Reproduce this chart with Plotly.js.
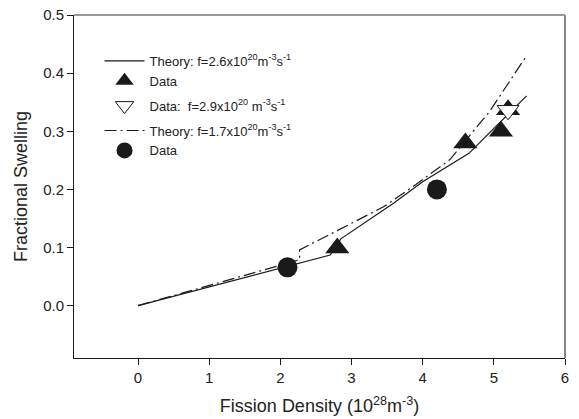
<!DOCTYPE html>
<html>
<head>
<meta charset="utf-8">
<script src="https://cdn.plot.ly/plotly-3.0.1.min.js"></script>
<style>html,body{margin:0;padding:0;background:#fff;}#chart{width:579px;height:419px;}</style>
</head>
<body>
<div id="chart"></div>
<script>
// Theory curve, f = 2.6e20
var theory1X = [0, 2.7, 2.85, 3.3, 3.6, 4.0, 4.65, 5.46];
var theory1Y = [0, 0.087, 0.115, 0.152, 0.177, 0.213, 0.262, 0.361];
// Data (filled triangles)
var data1X = [2.8, 4.6, 5.1, 5.2];
var data1Y = [0.099, 0.28, 0.30, 0.337];
// Data f = 2.9e20 (open inverted triangle)
var data2X = [5.2];
var data2Y = [0.336];
// Theory curve, f = 1.7e20
var theory2X = [0, 2.27, 2.27, 3.45, 3.9, 4.38, 4.94, 5.46];
var theory2Y = [0, 0.079, 0.096, 0.170, 0.208, 0.251, 0.334, 0.430];
// Data (filled circles)
var data3X = [2.1, 4.2];
var data3Y = [0.066, 0.2];

var xTicks = [0, 1, 2, 3, 4, 5, 6];
var yTicks = [0.0, 0.1, 0.2, 0.3, 0.4, 0.5];
var yTickText = ['0.0', '0.1', '0.2', '0.3', '0.4', '0.5'];

var ink = '#1a1a1a';
var traces = [
  {x: theory1X, y: theory1Y, mode: 'lines', name: 'Theory: f=2.6x10<sup>20</sup>m<sup>-3</sup>s<sup>-1</sup>',
   line: {color: ink, width: 1.2}, legendgroup: 'g1'},
  {x: data1X, y: data1Y, mode: 'markers', name: 'Data',
   marker: {symbol: 'triangle-up', size: 21, color: ink}, legendgroup: 'g1'},
  {x: data2X, y: data2Y, mode: 'markers', name: 'Data:  f=2.9x10<sup>20</sup> m<sup>-3</sup>s<sup>-1</sup>',
   marker: {symbol: 'triangle-down', size: 19, color: '#fff', line: {color: ink, width: 1}}, legendgroup: 'g2'},
  {x: theory2X, y: theory2Y, mode: 'lines', name: 'Theory: f=1.7x10<sup>20</sup>m<sup>-3</sup>s<sup>-1</sup>',
   line: {color: ink, width: 1.2, dash: '12px,4px,2px,4px'}, legendgroup: 'g3'},
  {x: data3X, y: data3Y, mode: 'markers', name: 'Data',
   marker: {symbol: 'circle', size: 20, color: ink}, legendgroup: 'g3'}
];

var layout = {
  width: 579, height: 419,
  margin: {l: 74, r: 14, t: 15, b: 61},
  paper_bgcolor: '#fff', plot_bgcolor: '#fff',
  font: {family: 'Liberation Sans, Arial, sans-serif', color: '#222'},
  showlegend: true,
  legend: {x: 0.052, y: 0.91, xanchor: 'left', yanchor: 'top', bgcolor: 'rgba(0,0,0,0)',
           font: {size: 13, color: '#222'}, traceorder: 'grouped', tracegroupgap: 5, itemwidth: 40},
  xaxis: {range: [-0.9, 6], tickvals: xTicks, ticks: 'outside', ticklen: 6, tickcolor: ink,
          showline: true, linecolor: ink, linewidth: 1, showgrid: false, zeroline: false,
          tickfont: {size: 15, color: '#222'},
          title: {text: 'Fission Density (10<sup>28</sup>m<sup>-3</sup>)', font: {size: 18, color: '#222'}, standoff: 14}},
  yaxis: {range: [-0.09, 0.5], tickvals: yTicks, ticktext: yTickText, ticks: 'outside', ticklen: 6, tickcolor: ink,
          showline: true, linecolor: ink, linewidth: 1, showgrid: false, zeroline: false,
          tickfont: {size: 15, color: '#222'},
          title: {text: 'Fractional Swelling', font: {size: 18, color: '#222'}, standoff: 10}},
  shapes: [
    {type: 'line', xref: 'paper', yref: 'paper', x0: 0, x1: 1, y0: 1, y1: 1, line: {color: '#777', width: 1.5}},
    {type: 'line', xref: 'paper', yref: 'paper', x0: 1, x1: 1, y0: 0, y1: 1, line: {color: '#888', width: 2}}
  ]
};

Plotly.newPlot('chart', traces, layout, {displayModeBar: false, staticPlot: true});
</script>
</body>
</html>
